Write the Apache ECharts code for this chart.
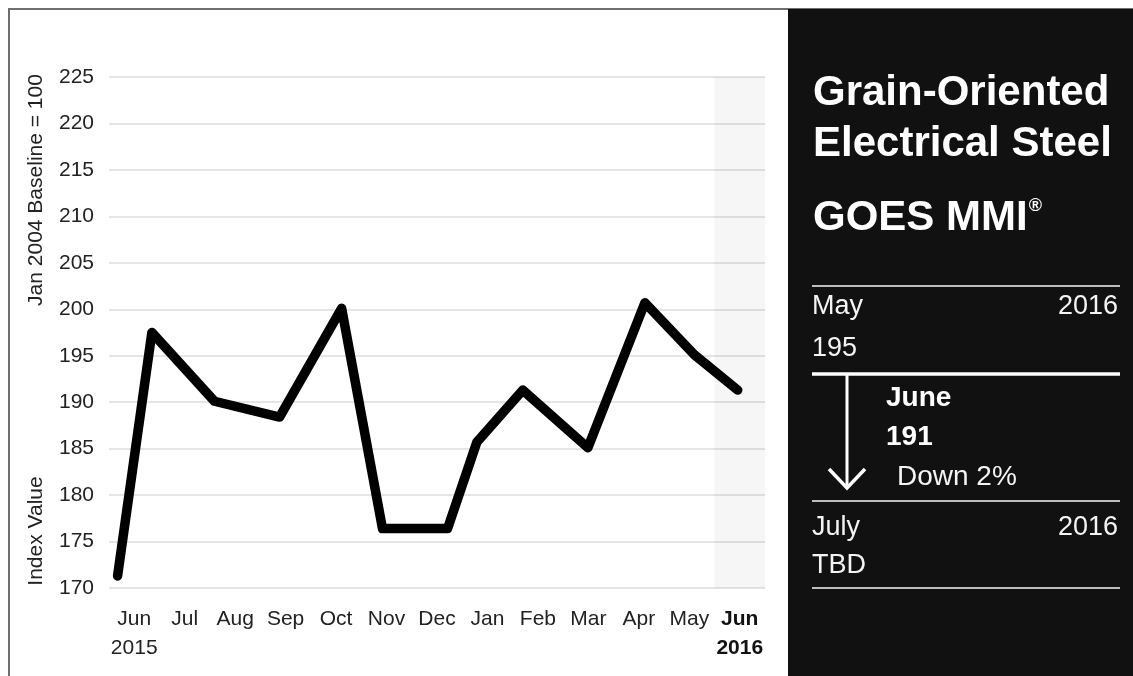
<!DOCTYPE html>
<html>
<head>
<meta charset="utf-8">
<script src="https://cdn.jsdelivr.net/npm/echarts@6/dist/echarts.min.js"></script>
<style>
html,body{margin:0;padding:0;background:#fff;}
#chart{width:1133px;height:676px;}
</style>
</head>
<body>
<div id="chart"></div>
<script>
// ---- data ----
const categories = ['Jun\n2015','Jul','Aug','Sep','Oct','Nov','Dec','Jan','Feb','Mar','Apr','May','Jun\n2016'];
// position of each reading along the month axis (month band i spans i..i+1)
const pointMonth = [0.17, 0.85, 2.09, 3.38, 4.61, 5.42, 6.71, 7.29, 8.20, 9.49, 10.62, 11.60, 12.46];
const indexValues = [171.3, 197.5, 190.1, 188.4, 200.1, 176.4, 176.4, 185.7, 191.3, 185.1, 200.7, 195.1, 191.3];
const yMin = 170, yMax = 225, yStep = 5;
const highlightMonth = [12, 13];

const titleLines = ['Grain-Oriented', 'Electrical Steel'];
const indexName = 'GOES MMI';
const prevMonth = {name: 'May', year: '2016', value: '195'};
const curMonth = {name: 'June', value: '191', change: 'Down 2%'};
const nextMonth = {name: 'July', year: '2016', value: 'TBD'};

const FONT = '"Liberation Sans", Arial, Helvetica, sans-serif';

const chart = echarts.init(document.getElementById('chart'), null, {renderer: 'canvas'});

const panelText = (x, y, text, opt) => Object.assign({
  type: 'text', x: x, y: y, z: 10,
  style: Object.assign({text: text, fill: '#f4f4f4', font: '27px ' + FONT, align: 'left', verticalAlign: 'middle'}, opt || {})
});
const panelLine = (y, color, w) => ({
  type: 'line', z: 10, shape: {x1: 812, y1: y, x2: 1120, y2: y},
  style: {stroke: color, lineWidth: w}
});

const option = {
  backgroundColor: '#fff',
  animation: false,
  grid: {left: 109, right: 368, top: 77, bottom: 88, containLabel: false},
  xAxis: [
    {
      type: 'category', data: categories, boundaryGap: true,
      axisLine: {show: false}, axisTick: {show: false},
      splitLine: {show: false},
      axisLabel: {
        interval: 0, margin: 17, color: '#222', fontFamily: FONT, fontSize: 21, lineHeight: 29,
        formatter: (v, i) => i === categories.length - 1 ? v.split('\n').map(s => '{b|' + s + '}').join('\n') : v,
        rich: {b: {fontWeight: 'bold', fontFamily: FONT, fontSize: 21, lineHeight: 29, color: '#111'}}
      }
    },
    {
      type: 'value', min: 0, max: categories.length, show: false
    }
  ],
  yAxis: {
    type: 'value', min: yMin, max: yMax, interval: yStep,
    axisLine: {show: false}, axisTick: {show: false},
    axisLabel: {color: '#222', fontFamily: FONT, fontSize: 21, margin: 15},
    splitLine: {lineStyle: {color: '#dcdcdc', width: 1.5}}
  },
  series: [{
    type: 'line', xAxisIndex: 1,
    data: pointMonth.map((m, i) => [m, indexValues[i]]),
    symbol: 'none',
    lineStyle: {color: '#000', width: 9.5, cap: 'round', join: 'round'},
    markArea: {
      silent: true,
      itemStyle: {color: 'rgba(0,0,0,0.035)'},
      data: [[{xAxis: highlightMonth[0]}, {xAxis: highlightMonth[1]}]]
    }
  }],
  graphic: [
    // frame
    {type: 'line', shape: {x1: 8, y1: 9, x2: 1133, y2: 9}, style: {stroke: '#6e6e6e', lineWidth: 2}},
    {type: 'line', shape: {x1: 9, y1: 8, x2: 9, y2: 676}, style: {stroke: '#6e6e6e', lineWidth: 2}},
    // dark panel
    {type: 'rect', z: 5, shape: {x: 788, y: 9, width: 345, height: 667}, style: {fill: '#111'}},
    // axis titles
    {type: 'text', x: 36, y: 190, rotation: Math.PI / 2,
      style: {text: 'Jan 2004 Baseline = 100', fill: '#222', font: '21px ' + FONT, align: 'center', verticalAlign: 'middle'}},
    {type: 'text', x: 36, y: 531, rotation: Math.PI / 2,
      style: {text: 'Index Value', fill: '#222', font: '21px ' + FONT, align: 'center', verticalAlign: 'middle'}},
    // panel title
    panelText(813, 93, titleLines[0], {font: 'bold 42px ' + FONT, fill: '#fff'}),
    panelText(813, 144, titleLines[1], {font: 'bold 42px ' + FONT, fill: '#fff'}),
    {type: 'text', x: 813, y: 218, z: 10, style: {
      text: '{a|' + indexName + '}{s|®}', verticalAlign: 'middle', align: 'left',
      rich: {
        a: {fill: '#fff', font: 'bold 42px ' + FONT, verticalAlign: 'middle'},
        s: {fill: '#fff', font: 'bold 18px ' + FONT, verticalAlign: 'top', padding: [0, 0, 18, 1]}
      }
    }},
    panelLine(286, '#bdbdbd', 2),
    panelText(812, 307, prevMonth.name),
    panelText(1118, 307, prevMonth.year, {align: 'right'}),
    panelText(812, 349, prevMonth.value),
    panelLine(374, '#ffffff', 3.5),
    // arrow
    {type: 'line', z: 10, shape: {x1: 847, y1: 375, x2: 847, y2: 487}, style: {stroke: '#fff', lineWidth: 3}},
    {type: 'polyline', z: 10, shape: {points: [[829, 469], [847, 488], [865, 469]]}, style: {stroke: '#fff', lineWidth: 3.5, fill: null}},
    panelText(886, 398, curMonth.name, {font: 'bold 28px ' + FONT, fill: '#fff'}),
    panelText(886, 437, curMonth.value, {font: 'bold 28px ' + FONT, fill: '#fff'}),
    panelText(897, 477, curMonth.change, {font: '28px ' + FONT}),
    panelLine(501, '#bdbdbd', 2),
    panelText(812, 528, nextMonth.name),
    panelText(1118, 528, nextMonth.year, {align: 'right'}),
    panelText(812, 566, nextMonth.value),
    panelLine(588, '#bdbdbd', 2)
  ]
};
chart.setOption(option);
</script>
</body>
</html>
